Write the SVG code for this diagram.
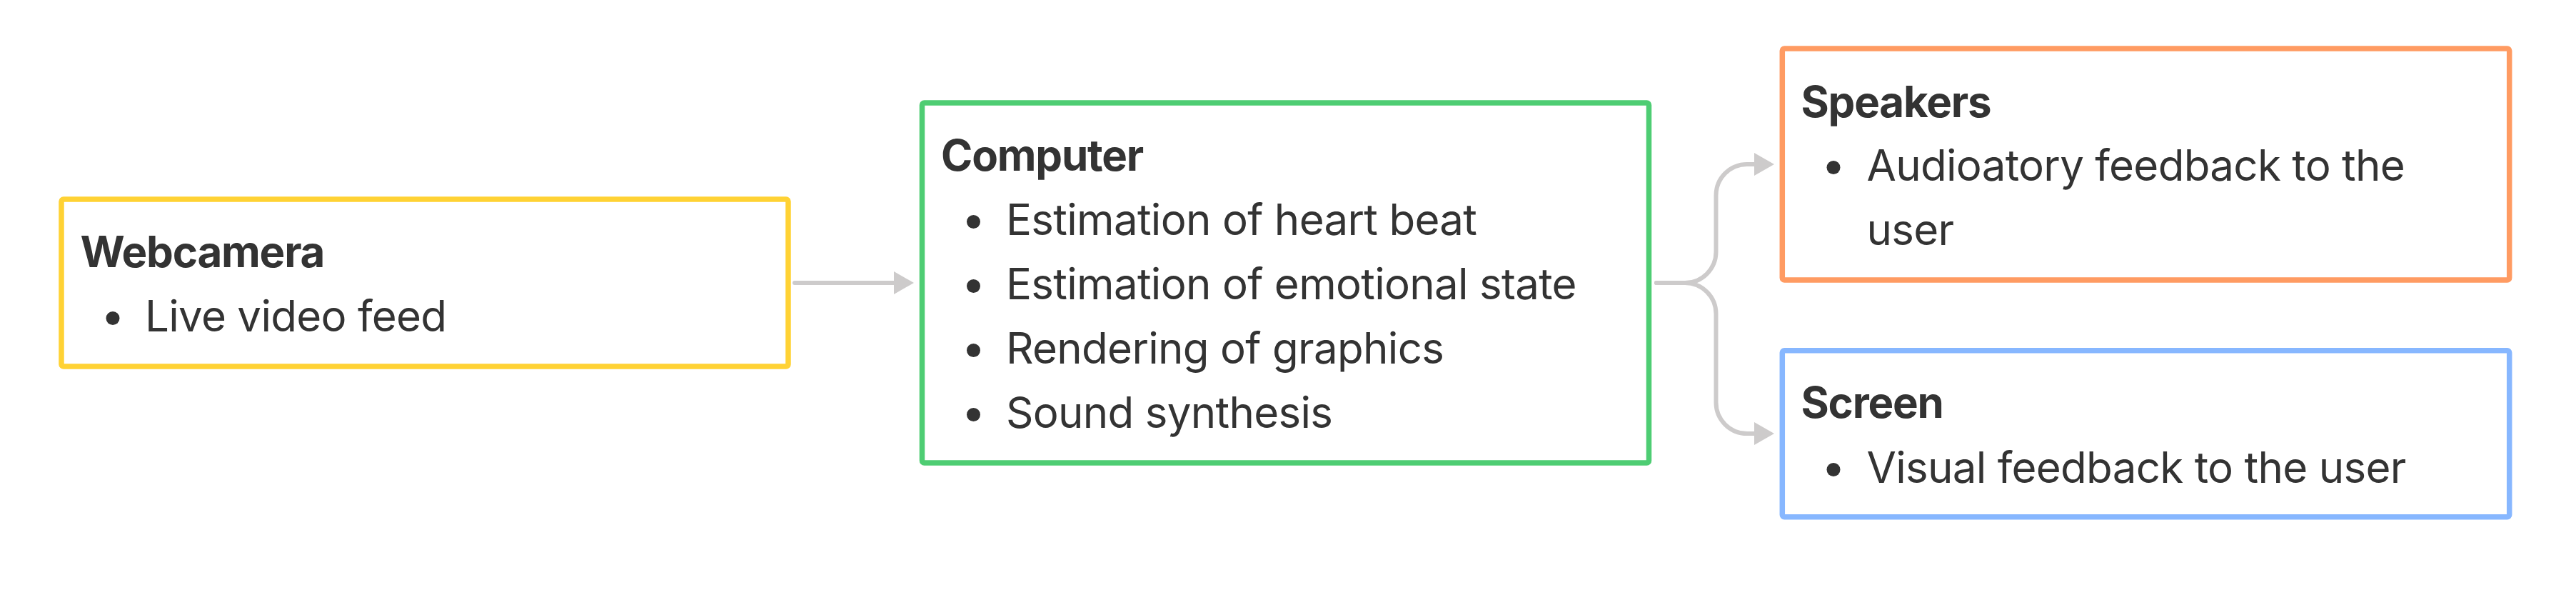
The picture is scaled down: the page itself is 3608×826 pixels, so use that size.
<svg xmlns="http://www.w3.org/2000/svg" width="3608" height="826" viewBox="0 0 3608 826">
  <style>
    .box { fill: #ffffff; stroke-width: 7.5; }
    .title { font-family: Inter, "Noto Sans", "Liberation Sans", sans-serif; font-size: 60px; font-weight: 700; fill: #333333; letter-spacing: -1.2px; }
    .item { font-family: Inter, "Noto Sans", "Liberation Sans", sans-serif; font-size: 60px; font-weight: 400; fill: #333333; letter-spacing: -0.7px; }
    .dot { fill: #333333; }
    .conn { fill: none; stroke: #CDCBCB; stroke-width: 6; stroke-linecap: round; stroke-linejoin: round; }
  </style>
  <defs>
    <marker id="arrow" viewBox="0 0 28 32" refX="0" refY="16" markerWidth="28" markerHeight="32" markerUnits="userSpaceOnUse" orient="auto">
      <path d="M0,0 L28,16 L0,32 Z" fill="#CDCBCB"/>
    </marker>
  </defs>
  <rect width="3608" height="826" fill="#ffffff"/>

  <g id="connectors">
    <path class="conn" d="M1113 396 H1252" marker-end="url(#arrow)"/>
    <path class="conn" d="M2320 396 H2360 A43.5 43.5 0 0 0 2403.5 352.5 V273.5 A43.5 43.5 0 0 1 2447 230 H2457" marker-end="url(#arrow)"/>
    <path class="conn" d="M2320 396 H2360 A43.5 43.5 0 0 1 2403.5 439.5 V563.5 A43.5 43.5 0 0 0 2447 607 H2457" marker-end="url(#arrow)"/>
  </g>

  <g id="webcamera">
    <rect class="box" x="86" y="279" width="1018" height="234" rx="3" stroke="#FFD234"/>
    <text class="title" x="112.5" y="374">Webcamera</text>
    <circle class="dot" cx="158" cy="445.5" r="9.5"/>
    <text class="item" x="203" y="464">Live video feed</text>
  </g>

  <g id="computer">
    <rect class="box" x="1291.5" y="144" width="1018" height="504" rx="3" stroke="#4ECD73"/>
    <text class="title" x="1318" y="239">Computer</text>
    <circle class="dot" cx="1363.5" cy="310.5" r="9.5"/>
    <text class="item" x="1409" y="329">Estimation of heart beat</text>
    <circle class="dot" cx="1363.5" cy="400.5" r="9.5"/>
    <text class="item" x="1409" y="419">Estimation of emotional state</text>
    <circle class="dot" cx="1363.5" cy="490.5" r="9.5"/>
    <text class="item" x="1409" y="509">Rendering of graphics</text>
    <circle class="dot" cx="1363.5" cy="580.5" r="9.5"/>
    <text class="item" x="1409" y="599">Sound synthesis</text>
  </g>

  <g id="speakers">
    <rect class="box" x="2496.3" y="68" width="1018.4" height="324" rx="3" stroke="#FF9B62"/>
    <text class="title" x="2522.5" y="163.5">Speakers</text>
    <circle class="dot" cx="2568" cy="234.5" r="9.5"/>
    <text class="item" x="2614.5" y="253">Audioatory feedback to the</text>
    <text class="item" x="2614.5" y="343">user</text>
  </g>

  <g id="screen">
    <rect class="box" x="2496.3" y="490.8" width="1018.4" height="233" rx="3" stroke="#87B7FF"/>
    <text class="title" x="2522.5" y="585">Screen</text>
    <circle class="dot" cx="2568" cy="657.5" r="9.5"/>
    <text class="item" x="2614.5" y="676">Visual feedback to the user</text>
  </g>
</svg>
